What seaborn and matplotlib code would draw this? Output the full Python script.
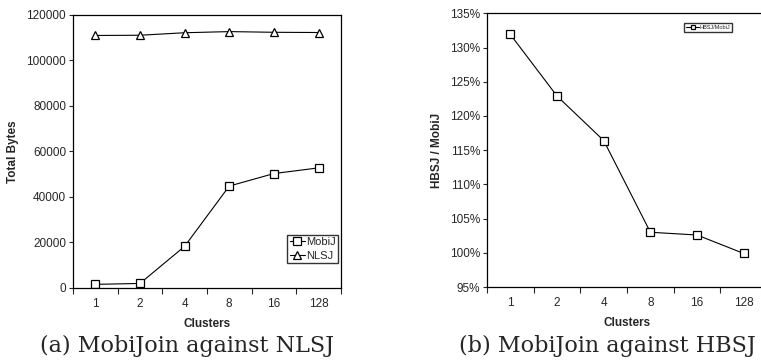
import numpy as np
import pandas as pd
import matplotlib
matplotlib.use("Agg")
import matplotlib.pyplot as plt
import matplotlib.ticker as ticker
import seaborn as sns

clusters = ["1", "2", "4", "8", "16", "128"]
mobij_bytes = [1600, 2000, 18300, 44800, 50300, 52800]
nlsj_bytes = [111000, 111100, 112200, 112700, 112400, 112300]
hbsj_ratio = [131.9, 122.9, 116.4, 103.0, 102.6, 99.9]

sns.set_theme(style="ticks")
plt.rcParams["font.family"] = ["Liberation Sans", "DejaVu Sans"]
plt.rcParams["axes.linewidth"] = 0.9

df_a = pd.DataFrame({
    "Clusters": clusters * 2,
    "bytes": mobij_bytes + nlsj_bytes,
    "series": ["MobiJ"] * 6 + ["NLSJ"] * 6,
})
df_b = pd.DataFrame({"Clusters": clusters, "ratio": hbsj_ratio,
                     "series": ["HBSJ/MobiJ"] * 6})

fig = plt.figure(figsize=(7.61, 3.64), dpi=100)
ax1 = fig.add_axes([0.0959, 0.2088, 0.352, 0.75])
ax2 = fig.add_axes([0.640, 0.2115, 0.368, 0.752])

sns.lineplot(data=df_a, x="Clusters", y="bytes", hue="series", style="series",
             markers={"MobiJ": "s", "NLSJ": "^"}, dashes=False,
             palette={"MobiJ": "black", "NLSJ": "black"}, linewidth=0.8,
             markersize=6, markerfacecolor="white", markeredgecolor="black",
             markeredgewidth=0.9, ax=ax1)
sns.lineplot(data=df_b, x="Clusters", y="ratio", hue="series", style="series",
             markers={"HBSJ/MobiJ": "s"}, dashes=False,
             palette={"HBSJ/MobiJ": "black"}, linewidth=0.8,
             markersize=6, markerfacecolor="white", markeredgecolor="black",
             markeredgewidth=0.9, ax=ax2)

for ax in (ax1, ax2):
    ax.set_xlim(-0.5, 5.5)
    ax.xaxis.set_minor_locator(ticker.FixedLocator(np.arange(-0.5, 6, 1.0)))
    ax.tick_params(axis="x", which="major", length=0, labelsize=8.5, pad=7)
    ax.tick_params(axis="x", which="minor", length=4, width=0.8, direction="out")
    ax.tick_params(axis="y", length=3, width=0.8, labelsize=8.5, pad=2)
    ax.set_xlabel("Clusters", fontsize=8.5, fontweight="bold", labelpad=6)
    for s in ax.spines.values():
        s.set_color("black")

ax1.set_ylim(0, 120000)
ax1.yaxis.set_major_locator(ticker.MultipleLocator(20000))
ax1.set_ylabel("Total Bytes", fontsize=8.5, fontweight="bold", labelpad=5)
ax1.legend(loc="lower right", bbox_to_anchor=(0.99, 0.09), fontsize=8,
           frameon=True, fancybox=False, edgecolor="black", handlelength=1.3,
           handletextpad=0.1, borderpad=0.25, labelspacing=0.3, borderaxespad=0,
           markerscale=0.9)

ax2.set_ylim(95, 135)
ax2.yaxis.set_major_locator(ticker.MultipleLocator(5))
ax2.yaxis.set_major_formatter(ticker.FuncFormatter(lambda v, p: f"{v:.0f}%"))
ax2.set_ylabel("HBSJ / MobiJ", fontsize=8.5, fontweight="bold", labelpad=5)
ax2.legend(loc="upper left", bbox_to_anchor=(0.705, 0.965), fontsize=4,
           frameon=True, fancybox=False, edgecolor="black",
           handlelength=2.2, handletextpad=0.2, borderpad=0.35,
           borderaxespad=0, markerscale=0.5)

fig.text(0.246, 0.050, "(a) MobiJoin against NLSJ", ha="center", va="center",
         fontsize=16, family=["DejaVu Serif"])
fig.text(0.798, 0.050, "(b) MobiJoin against HBSJ", ha="center", va="center",
         fontsize=16, family=["DejaVu Serif"])

fig.savefig("out.png", dpi=100)
